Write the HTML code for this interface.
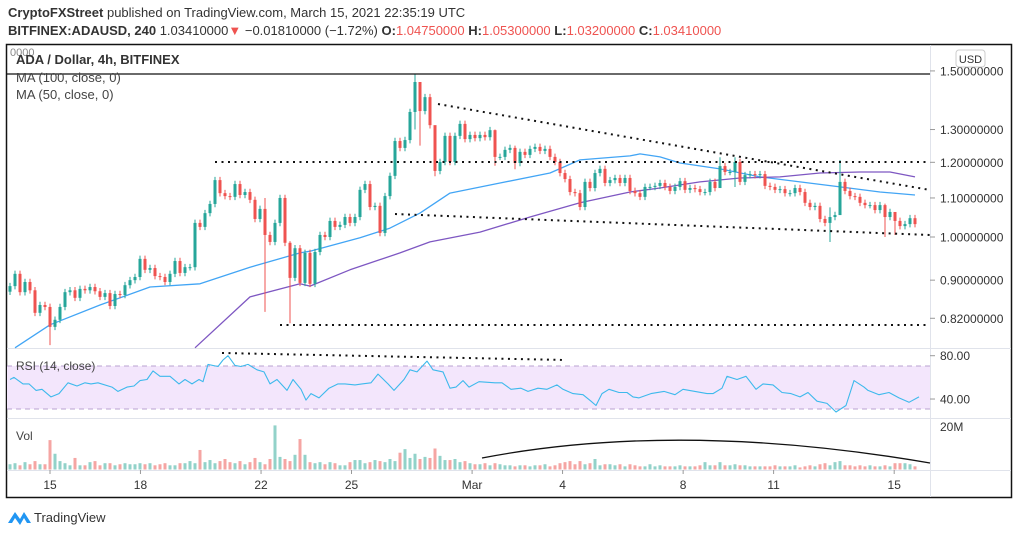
<!DOCTYPE html>
<html><head><meta charset="utf-8">
<style>
html,body{margin:0;padding:0;background:#fff;}
body{width:1018px;height:535px;overflow:hidden;font-family:"Liberation Sans",sans-serif;}
svg{display:block}
</style></head>
<body>
<svg id="chart" width="1018" height="535" viewBox="0 0 1018 535" xmlns="http://www.w3.org/2000/svg" font-family="Liberation Sans, sans-serif">
<text x="8" y="17" font-size="13" fill="#333"><tspan font-weight="bold">CryptoFXStreet</tspan> published on TradingView.com, March 15, 2021 22:35:19 UTC</text>
<text x="8" y="35" font-size="13" fill="#333"><tspan font-weight="bold">BITFINEX:ADAUSD, 240</tspan> 1.03410000<tspan fill="#ef5350">▼</tspan> −0.01810000 (−1.72%) <tspan font-weight="bold">O:</tspan><tspan fill="#ef5350">1.04750000</tspan> <tspan font-weight="bold">H:</tspan><tspan fill="#ef5350">1.05300000</tspan> <tspan font-weight="bold">L:</tspan><tspan fill="#ef5350">1.03200000</tspan> <tspan font-weight="bold">C:</tspan><tspan fill="#ef5350">1.03410000</tspan></text>
<rect x="6.5" y="44.5" width="1005" height="453" fill="none" stroke="#131313" stroke-width="1.5"/>
<line x1="930.5" y1="45" x2="930.5" y2="497" stroke="#e0e3eb"/>
<line x1="7" y1="348.5" x2="1011" y2="348.5" stroke="#e0e3eb"/>
<line x1="7" y1="418.5" x2="1011" y2="418.5" stroke="#e0e3eb"/>
<line x1="7" y1="470.5" x2="1011" y2="470.5" stroke="#e0e3eb"/>
<rect x="7" y="366" width="923" height="43" fill="#f3e6fc"/>
<line x1="7" y1="366" x2="930" y2="366" stroke="#b9a3d1" stroke-dasharray="5,4"/>
<line x1="7" y1="409" x2="930" y2="409" stroke="#b9a3d1" stroke-dasharray="5,4"/>
<g id="vol"></g><g id="ma"></g><g id="candles"></g><g id="rsi"></g><g id="draw"></g><g id="axes"></g>
<text x="10" y="56" font-size="11" fill="#888">0000</text>
<text x="16" y="64" font-size="13" font-weight="bold" fill="#333">ADA / Dollar, 4h, BITFINEX</text>
<text x="16" y="82" font-size="13" fill="#444">MA (100, close, 0)</text>
<text x="16" y="99" font-size="13" fill="#444">MA (50, close, 0)</text>
<text x="16" y="370" font-size="12" fill="#444">RSI (14, close)</text>
<text x="16" y="440" font-size="12" fill="#444">Vol</text>
<rect x="956" y="50" width="29" height="17" rx="3" fill="#fff" stroke="#ccc"/>
<text x="970.5" y="63" font-size="11" fill="#333" text-anchor="middle">USD</text>
<g>
<path d="M8 523 L15 512 L20 519 L24 512 L31 523 L27 523 L24 518 L20 525 L15 518 L12 523 Z" fill="#2196f3"/>
<text x="34" y="522" font-size="13" fill="#333">TradingView</text>
</g>
</svg>
<script>
const closes=[0.887,0.914,0.874,0.896,0.878,0.831,0.847,0.843,0.803,0.817,
0.843,0.874,0.878,0.862,0.881,0.878,0.885,0.876,0.864,0.872,
0.845,0.870,0.868,0.889,0.900,0.907,0.948,0.923,0.927,0.909,
0.907,0.896,0.914,0.943,0.916,0.929,0.929,1.035,1.025,1.060,
1.084,1.149,1.113,1.105,1.103,1.138,1.108,1.116,1.095,1.045,
1.071,1.005,0.988,1.035,1.100,0.986,0.905,0.973,0.894,0.962,
0.892,0.964,1.005,1.000,1.040,1.025,1.030,1.050,1.035,1.050,
1.122,1.138,1.076,1.079,1.010,1.105,1.161,1.264,1.243,1.267,
1.357,1.460,1.360,1.407,1.314,1.175,1.201,1.280,1.201,1.280,
1.318,1.270,1.283,1.273,1.283,1.276,1.298,1.216,1.216,1.237,
1.243,1.198,1.231,1.222,1.240,1.246,1.234,1.240,1.216,1.201,
1.169,1.152,1.116,1.113,1.076,1.144,1.127,1.169,1.181,1.141,
1.149,1.155,1.141,1.155,1.119,1.113,1.103,1.130,1.130,1.133,
1.141,1.130,1.119,1.130,1.146,1.122,1.127,1.124,1.116,1.116,
1.144,1.127,1.189,1.172,1.172,1.201,1.144,1.163,1.166,1.163,
1.166,1.133,1.130,1.122,1.124,1.113,1.113,1.127,1.116,1.087,
1.076,1.079,1.045,1.035,1.050,1.055,1.144,1.119,1.105,1.103,
1.087,1.081,1.081,1.068,1.081,1.050,1.063,1.040,1.027,1.032,
1.047,1.032];
const firstOpen=0.875;
const wickIdx=[8,51,56,81,82,85,97,101,142,145,164,166,175,177];
const wickHigh=[0.850,1.100,0.990,1.490,1.460,1.300,1.300,1.250,1.215,1.215,1.075,1.207,1.085,1.062];
const wickLow=[0.768,0.833,0.810,1.300,1.250,1.160,1.190,1.180,1.130,1.130,0.988,1.110,1.000,1.005];
const vols=[2.5,3,2,3.5,2.5,4,2.5,2.5,14,7.5,4,3,2,5.5,2,2,3.5,4,2,3,
3,2,2.5,3,2.5,2.5,3,2.5,3,2,2.5,3,2,2,3,3,4,3,9.3,3.5,
4.5,3,4,5,3.5,3,4,2.5,3.5,5.5,3.5,2.5,5,21,6,5,4,7,14.5,7,
3.5,3,3.5,2.5,3.5,3,2,2,3.5,4.5,4.5,3,3.5,4.5,4,3.5,5,4,8,9.7,
5.5,7.5,5,6,5.5,10,6.5,4.5,4.5,5,3.5,4,3,2.5,2.5,3,2,3,2.5,2,
2,1.5,2,2,1.5,2,2,2.5,1.5,2,3,3.5,4,2.5,4,2.5,3,5,2,2.5,
2.5,2,2.5,1.5,2.5,2,1.5,1.5,2.5,1.5,2,1.5,1.5,1.5,2,1.5,1.5,1.5,2,3.5,
2,2,3.5,2,2,2.5,2,2,1.5,1.5,1.5,1.5,1.5,2,1.5,1.5,1.5,2,1,1.5,
2,1.5,2.5,3,2,3.5,4,2,2,1.5,2,1.5,2,1.5,1.5,2,1.5,3,3,3,2.5,1.5];
const ma50Idx=[1,8,18,28,38,48,58,60,70,76,82,88,98,108,114,124,126,130,134,142,150,158,166,174,181];
const ma50Val=[0.763,0.807,0.847,0.885,0.892,0.929,0.962,0.966,0.998,1.022,1.060,1.113,1.141,1.169,1.207,1.219,1.225,1.216,1.198,1.181,1.158,1.144,1.130,1.116,1.108];
const ma100Idx=[37,48,58,60,68,78,84,94,104,114,124,130,138,146,154,162,170,176,181];
const ma100Val=[0.763,0.864,0.892,0.887,0.923,0.962,0.988,1.012,1.050,1.087,1.116,1.127,1.144,1.155,1.158,1.169,1.172,1.172,1.158];
const rsiX=[10,14,23,29,36,42,51,59,68,77,85,91,98,112,118,127,134,140,147,153,160,170,179,185,192,199,203,208,218,223,228,235,241,248,257,264,270,277,287,293,301,306,311,319,329,338,345,355,362,371,378,388,394,404,410,417,422,427,433,443,450,456,463,469,479,495,502,511,521,528,538,547,557,563,573,583,591,596,602,609,619,627,633,639,651,664,675,683,707,713,722,727,737,746,756,763,773,782,791,800,808,817,827,836,846,854,864,868,879,889,899,909,919];
const rsiV=[58,60,54,54,48,49,42,45,55,52,55,54,55,51,47,51,52,57,58,66,61,61,54,58,54,58,56,72,70,76,80,71,70,72,67,65,54,58,48,58,49,39,45,41,50,54,54,53,54,55,63,54,48,58,67,65,70,75,67,65,50,51,57,51,56,55,55,49,50,47,50,49,53,49,45,44,38,34,45,49,46,46,42,41,45,47,44,49,45,45,50,61,58,61,49,54,53,46,45,42,46,38,36,28,34,57,51,48,44,46,41,37,42,39];
const priceTicks=[1.5,1.3,1.2,1.1,1.0,0.9,0.82];
const priceTickLabels=["1.50000000","1.30000000","1.20000000","1.10000000","1.00000000","0.90000000","0.82000000"];
const dateDays=[0,3,7,10,14,17,21,24,28];
const dateLabels=["15","18","22","25","Mar","4","8","11","15"];
const rsiTicks=[80,40];
const rsiTickLabels=["80.00","40.00"];

const NS="http://www.w3.org/2000/svg";
const yP=p=>237-Math.log(p)*409.6;
const xI=i=>10+5*i;
const xD=d=>50+30.15*d;
const yR=v=>355.7+(80-v)*1.083;
const yV=v=>469.5-v*2.1;
function mk(t,a,parent){const e=document.createElementNS(NS,t);for(const k in a)e.setAttribute(k,a[k]);document.getElementById(parent).appendChild(e);return e;}

let prev=firstOpen;
closes.forEach((c,i)=>{
  const o=prev;prev=c;
  const up=c>=o;const col=up?"#26a69a":"#ef5350";
  const k=wickIdx.indexOf(i);
  const hi=k>=0?wickHigh[k]:Math.max(o,c)*1.008;
  const lo=k>=0?wickLow[k]:Math.min(o,c)*0.992;
  const x=xI(i);
  const w=mk("line",{x1:x,x2:x,y1:yP(hi),y2:yP(lo),stroke:col,"stroke-width":1},"candles");
  
  
  const t=Math.min(yP(o),yP(c));const h=Math.max(1,Math.abs(yP(o)-yP(c)));
  const b=mk("rect",{x:x-1.5,y:t,width:3,height:h,fill:col},"candles");
  
  
  const v=mk("rect",{x:x-1.5,y:yV(vols[i]),width:3,height:vols[i]*2.1,fill:up?"#92d2c9":"#f5a5a3"},"vol");
  
  
});
function poly(xs,ys,col,name,parent,w){
  const pts=xs.map((x,i)=>x.toFixed(1)+","+ys[i].toFixed(1)).join(" ");
  const p=mk("polyline",{points:pts,fill:"none",stroke:col,"stroke-width":w||1.3,"stroke-linejoin":"round"},parent);
  
  
}
poly(ma50Idx.map(xI),ma50Val.map(yP),"#42a5f5","ma50-line","ma");
poly(ma100Idx.map(xI),ma100Val.map(yP),"#7e57c2","ma100-line","ma");
poly(rsiX,rsiV.map(yR),"#3db9ec","rsi-line","rsi",1.1);

function dl(x1,y1,x2,y2,name,dash){
  const l=mk("line",{x1,y1,x2,y2,stroke:"#111","stroke-width":dash?2:1.3,"stroke-dasharray":dash?"2,4.5":"none"},"draw");
  
  
}
dl(7,74,930,74,"resistance-top-line",false);
dl(215,162,930,162,"resistance-1-20-line",true);
dl(280,325,930,325,"support-0-82-line",true);
dl(438,104,930,190,"descending-trendline",true);
dl(395,214,930,235,"lower-channel-line",true);
dl(222,353,565,360,"rsi-divergence-line",true);
const arc=mk("path",{d:"M482 458 Q680 420 930 463",fill:"none",stroke:"#111","stroke-width":1.3},"draw");



priceTicks.forEach((p,i)=>{
  const y=yP(p);
  mk("line",{x1:930,x2:935,y1:y,y2:y,stroke:"#999"},"axes");
  const t=mk("text",{x:940,y:y+4.5,"font-size":12,fill:"#333"},"axes");
  t.textContent=priceTickLabels[i];
  
  
});
rsiTicks.forEach((v,i)=>{
  const y=yR(v);
  mk("line",{x1:930,x2:935,y1:y,y2:y,stroke:"#999"},"axes");
  const t=mk("text",{x:940,y:y+4.5,"font-size":12,fill:"#333"},"axes");
  t.textContent=rsiTickLabels[i];
  
  
});
{const t=mk("text",{x:940,y:431,"font-size":12,fill:"#333"},"axes");t.textContent="20M";

}
dateDays.forEach((d,i)=>{
  const x=xD(d);
  mk("line",{x1:x,x2:x,y1:470,y2:474,stroke:"#999"},"axes");
  const t=mk("text",{x:x,y:489,"font-size":12,fill:"#333","text-anchor":"middle"},"axes");
  t.textContent=dateLabels[i];
  
  
});
</script>
</body></html>
